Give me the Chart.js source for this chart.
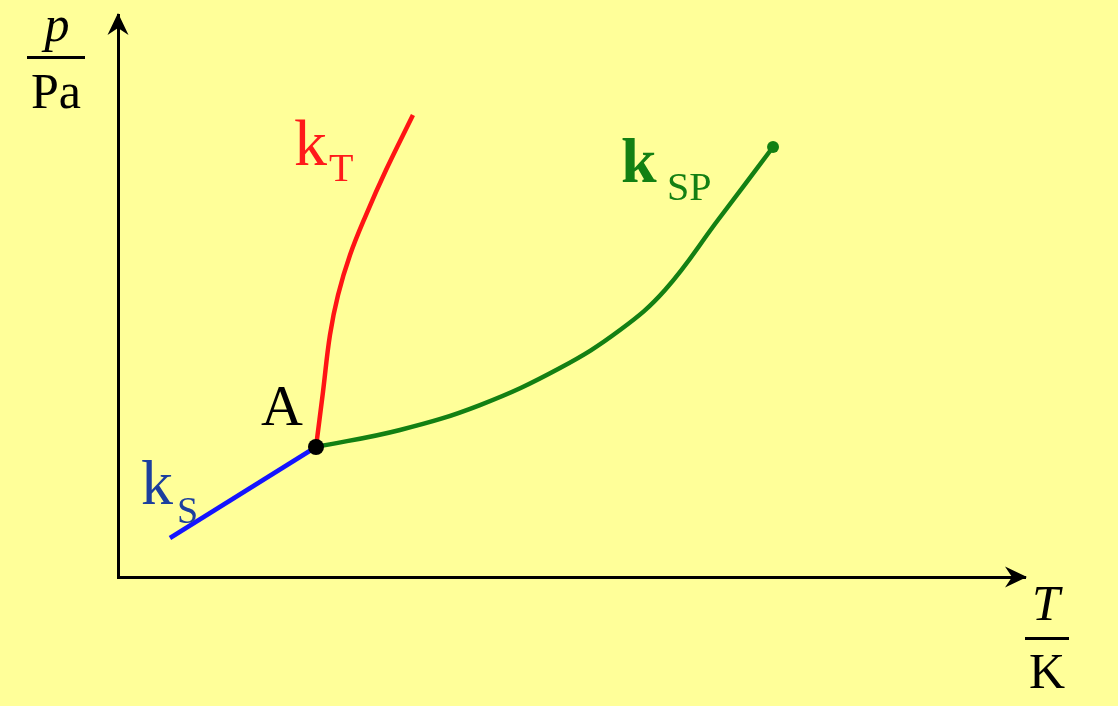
<!DOCTYPE html>
<html>
<head>
<meta charset="utf-8">
<script src="https://cdn.jsdelivr.net/npm/chart.js@4/dist/chart.umd.min.js"></script>
<style>
  html, body { margin: 0; padding: 0; background: #ffff99; }
  #wrap { width: 1118px; height: 706px; position: relative; }
  canvas { display: block; }
  .lbl { position: absolute; font-family: "Liberation Serif"; line-height: 1; white-space: nowrap; margin: 0; padding: 0; }
  .ctr { text-align: center; width: 100px; }
</style>
</head>
<body>
<div id="wrap">
  <canvas id="c" width="1118" height="706"></canvas>
  <div class="lbl ctr" style="left:7px; top:-1px; font-size:50px; font-style:italic;">p</div>
  <div class="lbl ctr" style="left:6px; top:66px; font-size:50px;">Pa</div>
  <div class="lbl ctr" style="left:996px; top:578px; font-size:50px; font-style:italic;">T</div>
  <div class="lbl ctr" style="left:997px; top:646px; font-size:50px;">K</div>
  <div class="lbl" style="left:261px; top:377px; font-size:58px;">A</div>
  <div class="lbl" style="left:294px; top:110px; font-size:66px; color:#ff1a1a;">k</div>
  <div class="lbl" style="left:329px; top:148px; font-size:40px; color:#ff1a1a;">T</div>
  <div class="lbl" style="left:621px; top:129px; font-size:64px; font-weight:bold; color:#138013;">k</div>
  <div class="lbl" style="left:667px; top:167px; font-size:40px; color:#138013;">SP</div>
  <div class="lbl" style="left:141px; top:451px; font-size:64px; color:#1c3f9e;">k</div>
  <div class="lbl" style="left:177px; top:491px; font-size:38px; color:#1c3f9e;">S</div>
</div>
<script>
// Data (arbitrary units, T on x axis 0..100, p on y axis 0..100)
const ksT = [5.73, 21.83];
const ksP = [6.94, 23.13];

const ktT = [21.83, 22.60, 23.37, 24.26, 25.58, 27.34, 29.55, 32.52];
const ktP = [23.13, 32.92, 43.06, 50.18, 57.30, 64.41, 72.42, 82.21];

const kspT = [21.83, 31.09, 39.91, 48.73, 55.35, 60.31, 66.15, 72.22];
const kspP = [23.13, 26.16, 30.60, 37.19, 43.95, 51.07, 63.52, 76.51];

const pointA = { T: 21.83, p: 23.13 };

const toXY = (xs, ys) => xs.map((x, i) => ({ x: x, y: ys[i] }));

const decor = {
  id: 'decor',
  beforeDraw(chart) {
    const ctx = chart.ctx;
    ctx.save();
    ctx.fillStyle = '#ffff99';
    ctx.fillRect(0, 0, chart.width, chart.height);
    ctx.restore();
  },
  afterDraw(chart) {
    const ctx = chart.ctx;
    const a = chart.chartArea;
    ctx.save();
    ctx.fillStyle = '#000';
    // y-axis arrowhead
    const L = a.left, T = a.top;
    ctx.beginPath();
    ctx.moveTo(L, T - 2);
    ctx.lineTo(L + 10.5, T + 20);
    ctx.lineTo(L, T + 13);
    ctx.lineTo(L - 10.5, T + 20);
    ctx.closePath();
    ctx.fill();
    // x-axis arrowhead
    const R = a.right, B = a.bottom;
    ctx.beginPath();
    ctx.moveTo(R + 2, B);
    ctx.lineTo(R - 20, B - 10.5);
    ctx.lineTo(R - 13, B);
    ctx.lineTo(R - 20, B + 10.5);
    ctx.closePath();
    ctx.fill();
    // fraction bars of the axis units
    ctx.fillRect(27, 56, 58, 3);
    ctx.fillRect(1025, 637, 44, 3);
    ctx.restore();
  }
};

new Chart(document.getElementById('c'), {
  type: 'scatter',
  data: {
    datasets: [
      {
        label: 'A',
        data: [{ x: pointA.T, y: pointA.p }],
        pointRadius: 8,
        pointBackgroundColor: '#000',
        pointBorderWidth: 0,
        showLine: false,
        order: 0
      },
      {
        label: 'kS',
        data: toXY(ksT, ksP),
        showLine: true,
        borderColor: '#1414ff',
        borderWidth: 4.5,
        pointRadius: 0,
        tension: 0,
        order: 3
      },
      {
        label: 'kT',
        data: toXY(ktT, ktP),
        showLine: true,
        borderColor: '#ff1414',
        borderWidth: 4.5,
        pointRadius: 0,
        tension: 0.4,
        order: 2
      },
      {
        label: 'kSP',
        data: toXY(kspT, kspP),
        showLine: true,
        borderColor: '#138013',
        borderWidth: 4.5,
        pointRadius: kspT.map((_, i) => i === kspT.length - 1 ? 6 : 0),
        pointBackgroundColor: '#138013',
        pointBorderWidth: 0,
        tension: 0.4,
        order: 1
      }
    ]
  },
  options: {
    responsive: false,
    animation: false,
    layout: { padding: { left: 118, top: 15, right: 93, bottom: 129 } },
    plugins: { legend: { display: false }, tooltip: { enabled: false } },
    scales: {
      x: {
        type: 'linear', min: 0, max: 100,
        grid: { display: false },
        ticks: { display: false },
        border: { display: true, color: '#000', width: 3 },
        afterFit: (s) => { s.height = 0; }
      },
      y: {
        type: 'linear', min: 0, max: 100,
        grid: { display: false },
        ticks: { display: false },
        border: { display: true, color: '#000', width: 3 },
        afterFit: (s) => { s.width = 0; }
      }
    }
  },
  plugins: [decor]
});
</script>
</body>
</html>
